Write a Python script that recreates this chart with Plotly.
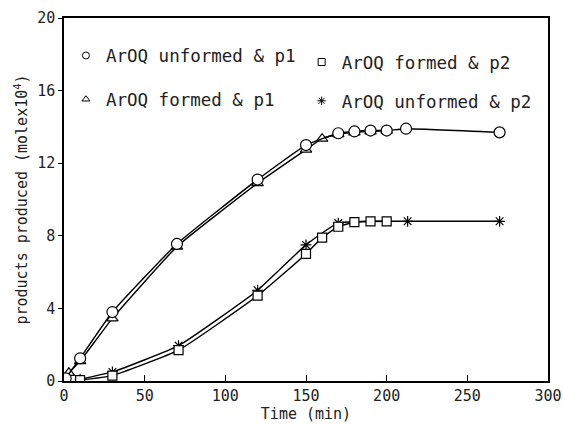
import plotly.graph_objects as go

# Data
t_unf_p1 = [1, 10, 30, 70, 120, 150, 170, 180, 190, 200, 212, 270]
y_unf_p1 = [0.15, 1.25, 3.8, 7.55, 11.1, 13.0, 13.65, 13.75, 13.8, 13.8, 13.9, 13.7]

t_frm_p1 = [3, 10, 30, 70, 120, 150, 160, 170, 180, 190, 200]
y_frm_p1 = [0.45, 1.1, 3.45, 7.4, 10.9, 12.75, 13.35, 13.6, 13.7, 13.75, 13.8]

t_frm_p2 = [10, 30, 71, 120, 150, 160, 170, 180, 190, 200]
y_frm_p2 = [0.05, 0.3, 1.7, 4.7, 7.0, 7.9, 8.5, 8.75, 8.8, 8.8]

t_unf_p2 = [10, 30, 71, 120, 150, 170, 213, 270]
y_unf_p2 = [0.1, 0.5, 1.95, 5.0, 7.5, 8.7, 8.8, 8.8]

names = ["ArOQ unformed & p1", "ArOQ formed & p1", "ArOQ formed & p2", "ArOQ unformed & p2"]
x_ticks = [0, 50, 100, 150, 200, 250, 300]
y_ticks = [0, 4, 8, 12, 16, 20]

FONT = "DejaVu Sans Mono"
fig = go.Figure()

series = [
    (t_unf_p2, y_unf_p2, "asterisk-open", "asterisk-open", 9, names[3], "legend2"),
    (t_frm_p2, y_frm_p2, "square", "square-open", 9, names[2], "legend2"),
    (t_frm_p1, y_frm_p1, "triangle-up", "triangle-up-open", 10, names[1], "legend"),
    (t_unf_p1, y_unf_p1, "circle", "circle-open", 11, names[0], "legend"),
]
for xs, ys, sym, lsym, sz, nm, lg in series:
    is_star = "asterisk" in sym
    fig.add_trace(go.Scatter(
        x=xs, y=ys, mode="lines+markers", showlegend=False,
        line=dict(color="black", width=1.4, shape="spline", smoothing=0.4),
        marker=dict(symbol=sym, size=sz, color="black" if is_star else "white",
                    line=dict(color="black", width=1.2)),
    ))
order = {names[0]: 1, names[1]: 2, names[2]: 1, names[3]: 2}
for xs, ys, sym, lsym, sz, nm, lg in series:
    fig.add_trace(go.Scatter(
        x=[None], y=[None], mode="markers", name=nm, legend=lg,
        legendgroup=nm, legendrank=order[nm],
        marker=dict(symbol=lsym, size=7, color="black",
                    line=dict(color="black", width=1)),
    ))

legend_common = dict(
    font=dict(family=FONT, size=17.5, color="#222"),
    bgcolor="rgba(0,0,0,0)", borderwidth=0,
    traceorder="grouped",
    itemwidth=30, xanchor="left", yanchor="top",
)
fig.update_layout(
    legend=dict(x=0.004, y=0.946, tracegroupgap=18, **legend_common),
    legend2=dict(x=0.491, y=0.928, tracegroupgap=13, **legend_common),
)

fig.update_xaxes(
    range=[0, 300], tickvals=x_ticks, ticks="inside", ticklen=6,
    tickcolor="black", showline=True, linecolor="black", linewidth=1.5,
    mirror=True, showgrid=False, zeroline=False,
    tickfont=dict(family=FONT, size=15, color="#222"),
    title=dict(text="Time (min)", font=dict(family=FONT, size=15, color="#222"), standoff=4),
)
fig.update_yaxes(
    range=[0, 20], tickvals=y_ticks, ticks="outside", ticklen=4,
    tickcolor="black", showline=True, linecolor="black", linewidth=1.5,
    mirror=True, showgrid=False, zeroline=False,
    tickfont=dict(family=FONT, size=15, color="#222"),
    title=dict(text="products produced (molex10<sup>4</sup>)",
               font=dict(family=FONT, size=15, color="#222"), standoff=6),
)
fig.update_layout(
    width=563, height=425,
    margin=dict(l=64, r=15, t=18, b=44, autoexpand=False),
    plot_bgcolor="white", paper_bgcolor="white",
)
fig.write_html("out.html")
